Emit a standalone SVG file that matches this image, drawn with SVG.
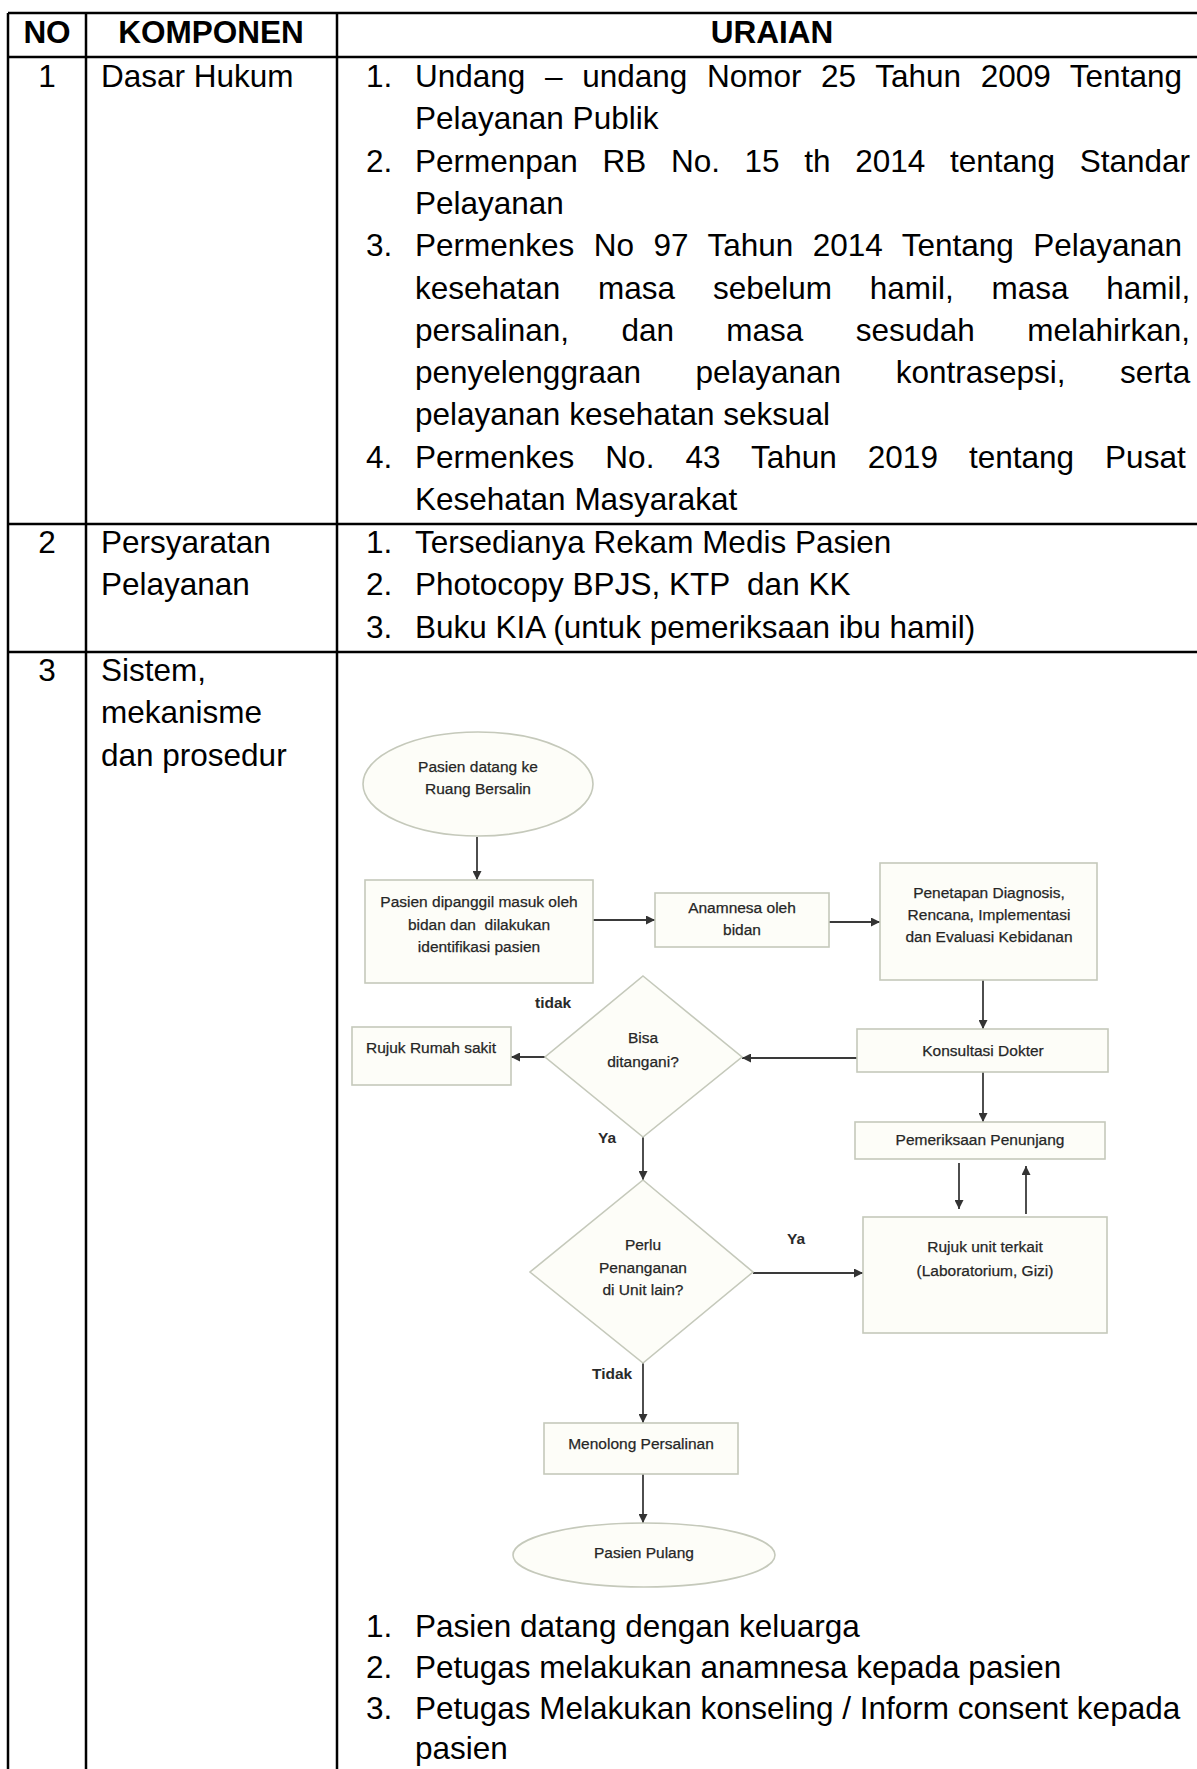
<svg xmlns="http://www.w3.org/2000/svg" width="1197" height="1769" viewBox="0 0 1197 1769">
<style>
.tl{stroke:#000;stroke-width:2.5;fill:none}
.t{font-family:"Liberation Sans",Arial,sans-serif;font-size:31.5px;fill:#000}
.b{font-weight:bold}
.m{text-anchor:middle}
.n{stroke:#c5c9bb;stroke-width:1.6;fill:#fdfdf8}
.ft{font-family:"Liberation Sans",Arial,sans-serif;font-size:15.5px;fill:#262626;stroke:#262626;stroke-width:0.25;text-anchor:middle}
.lb{font-family:"Liberation Sans",Arial,sans-serif;font-size:15.5px;font-weight:bold;fill:#2a2a2a}
.c{stroke:#3a3a3a;stroke-width:1.8;fill:none;marker-end:url(#ah)}
</style>
<defs>
<marker id="ah" viewBox="0 0 10 10" refX="10" refY="5" markerWidth="9" markerHeight="9" markerUnits="userSpaceOnUse" orient="auto"><path d="M0,0 L10,5 L0,10 z" fill="#333"/></marker>
</defs>
<rect width="1197" height="1769" fill="#fff"/>
<g id="table-grid">
<path class="tl" d="M8,13 H1197 M8,57 H1197 M8,524 H1197 M8,652 H1197 M8,13 V1769 M86,13 V1769 M337,13 V1769"/>
</g>
<g id="row-header" class="t b">
<text class="m" x="47" y="43">NO</text>
<text class="m" x="211" y="43">KOMPONEN</text>
<text class="m" x="772" y="43">URAIAN</text>
</g>
<g id="row-1" class="t">
<text class="m" x="47" y="87">1</text>
<text x="101" y="87">Dasar Hukum</text>
<text x="366" y="87">1.</text>
<text x="415" y="87" style="word-spacing:10.9px">Undang – undang Nomor 25 Tahun 2009 Tentang</text>
<text x="415" y="129.3">Pelayanan Publik</text>
<text x="366" y="171.6">2.</text>
<text x="415" y="171.6" style="word-spacing:15.9px">Permenpan RB No. 15 th 2014 tentang Standar</text>
<text x="415" y="213.9">Pelayanan</text>
<text x="366" y="256.2">3.</text>
<text x="415" y="256.2" style="word-spacing:10.7px">Permenkes No 97 Tahun 2014 Tentang Pelayanan</text>
<text x="415" y="298.5" style="word-spacing:29px">kesehatan masa sebelum hamil, masa hamil,</text>
<text x="415" y="340.8" style="word-spacing:43.6px">persalinan, dan masa sesudah melahirkan,</text>
<text x="415" y="383.1" style="word-spacing:45.9px">penyelenggraan pelayanan kontrasepsi, serta</text>
<text x="415" y="425.4">pelayanan kesehatan seksual</text>
<text x="366" y="467.7">4.</text>
<text x="415" y="467.7" style="word-spacing:22.3px">Permenkes No. 43 Tahun 2019 tentang Pusat</text>
<text x="415" y="510">Kesehatan Masyarakat</text>
</g>
<g id="row-2" class="t">
<text class="m" x="47" y="553">2</text>
<text x="101" y="553">Persyaratan</text>
<text x="101" y="595.3">Pelayanan</text>
<text x="366" y="553">1.</text>
<text x="415" y="553">Tersedianya Rekam Medis Pasien</text>
<text x="366" y="595.3">2.</text>
<text x="415" y="595.3" style="white-space:pre">Photocopy BPJS, KTP  dan KK</text>
<text x="366" y="637.6">3.</text>
<text x="415" y="637.6">Buku KIA (untuk pemeriksaan ibu hamil)</text>
</g>
<g id="row-3" class="t">
<text class="m" x="47" y="681">3</text>
<text x="101" y="681">Sistem,</text>
<text x="101" y="723">mekanisme</text>
<text x="101" y="766">dan prosedur</text>
<text x="366" y="1637">1.</text>
<text x="415" y="1637">Pasien datang dengan keluarga</text>
<text x="366" y="1678">2.</text>
<text x="415" y="1678">Petugas melakukan anamnesa kepada pasien</text>
<text x="366" y="1719">3.</text>
<text x="415" y="1719">Petugas Melakukan konseling / Inform consent kepada</text>
<text x="415" y="1759">pasien</text>
</g>
<g id="connectors">
<path class="c" d="M477,837 V880"/>
<path class="c" d="M593,920 H655"/>
<path class="c" d="M829,922 H880"/>
<path class="c" d="M983,980 V1029"/>
<path class="c" d="M857,1058 H742"/>
<path class="c" d="M545,1057 H511"/>
<path class="c" d="M643,1137 V1180"/>
<path class="c" d="M753,1273 H863"/>
<path class="c" d="M983,1072 V1122"/>
<path class="c" d="M959,1163 V1209"/>
<path class="c" d="M1026,1214 V1166"/>
<path class="c" d="M643,1363 V1423"/>
<path class="c" d="M643,1474 V1523"/>
<text class="lb" x="535" y="1008">tidak</text>
<text class="lb" x="598" y="1143">Ya</text>
<text class="lb" x="787" y="1244">Ya</text>
<text class="lb" x="592" y="1379">Tidak</text>
</g>
<g id="start">
<ellipse class="n" cx="478" cy="784" rx="115" ry="52"/>
<text class="ft" x="478" y="772">Pasien datang ke</text>
<text class="ft" x="478" y="794">Ruang Bersalin</text>
</g>
<g id="dipanggil">
<rect class="n" x="365" y="880" width="228" height="103"/>
<text class="ft" x="479" y="907">Pasien dipanggil masuk oleh</text>
<text class="ft" x="479" y="930" style="white-space:pre">bidan dan  dilakukan</text>
<text class="ft" x="479" y="952">identifikasi pasien</text>
</g>
<g id="anamnesa">
<rect class="n" x="655" y="893" width="174" height="54"/>
<text class="ft" x="742" y="913">Anamnesa oleh</text>
<text class="ft" x="742" y="935">bidan</text>
</g>
<g id="penetapan">
<rect class="n" x="880" y="863" width="217" height="117"/>
<text class="ft" x="989" y="898">Penetapan Diagnosis,</text>
<text class="ft" x="989" y="920">Rencana, Implementasi</text>
<text class="ft" x="989" y="942">dan Evaluasi Kebidanan</text>
</g>
<g id="konsultasi">
<rect class="n" x="857" y="1029" width="251" height="43"/>
<text class="ft" x="983" y="1056">Konsultasi Dokter</text>
</g>
<g id="bisa">
<polygon class="n" points="643,976 742,1057 643,1137 545,1057"/>
<text class="ft" x="643" y="1043">Bisa</text>
<text class="ft" x="643" y="1067">ditangani?</text>
</g>
<g id="rujuk-rs">
<rect class="n" x="352" y="1027" width="159" height="58"/>
<text class="ft" x="431" y="1053">Rujuk Rumah sakit</text>
</g>
<g id="penunjang">
<rect class="n" x="855" y="1122" width="250" height="37"/>
<text class="ft" x="980" y="1145">Pemeriksaan Penunjang</text>
</g>
<g id="perlu">
<polygon class="n" points="643,1180 753,1272 643,1363 530,1272"/>
<text class="ft" x="643" y="1250">Perlu</text>
<text class="ft" x="643" y="1273">Penanganan</text>
<text class="ft" x="643" y="1295">di Unit lain?</text>
</g>
<g id="rujuk-unit">
<rect class="n" x="863" y="1217" width="244" height="116"/>
<text class="ft" x="985" y="1252">Rujuk unit terkait</text>
<text class="ft" x="985" y="1276">(Laboratorium, Gizi)</text>
</g>
<g id="menolong">
<rect class="n" x="544" y="1423" width="194" height="51"/>
<text class="ft" x="641" y="1449">Menolong Persalinan</text>
</g>
<g id="end">
<ellipse class="n" cx="644" cy="1555" rx="131" ry="32"/>
<text class="ft" x="644" y="1558">Pasien Pulang</text>
</g>
</svg>
